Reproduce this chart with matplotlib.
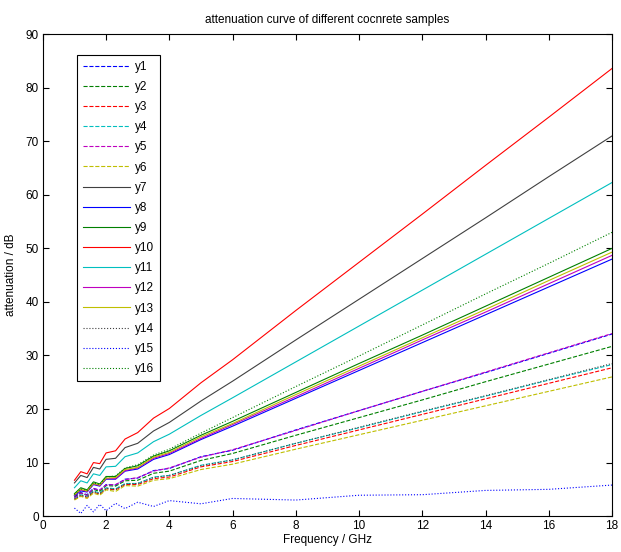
import matplotlib
matplotlib.use("Agg")
import matplotlib.pyplot as plt

plt.rcParams['font.family'] = ['Liberation Sans', 'DejaVu Sans']

freq = [1.0, 1.2, 1.4, 1.6, 1.8, 2.0, 2.3, 2.6, 3.0, 3.5, 4.0, 5.0, 6.0, 8.0, 10.0, 12.0, 14.0, 16.0, 18.0]

y1 = [3.6, 4.4, 4.0, 5.2, 4.8, 5.9, 5.8, 6.9, 7.1, 8.5, 8.9, 11.1, 12.3, 16.1, 19.7, 23.3, 26.8, 30.4, 34.0]
y2 = [3.5, 4.3, 3.9, 5.0, 4.6, 5.7, 5.6, 6.6, 6.7, 8.0, 8.4, 10.4, 11.7, 15.1, 18.4, 21.7, 25.1, 28.4, 31.7]
y3 = [3.1, 3.8, 3.5, 4.5, 4.1, 5.1, 4.9, 5.9, 5.9, 7.0, 7.3, 9.2, 10.2, 13.2, 16.1, 19.0, 21.9, 24.8, 27.7]
y4 = [3.3, 4.0, 3.7, 4.7, 4.3, 5.3, 5.1, 6.1, 6.1, 7.3, 7.6, 9.5, 10.5, 13.6, 16.5, 19.5, 22.4, 25.4, 28.3]
y5 = [3.4, 4.3, 3.9, 5.1, 4.9, 5.8, 5.9, 6.8, 7.2, 8.4, 9.0, 11.0, 12.4, 16.0, 19.7, 23.3, 26.9, 30.5, 34.1]
y6 = [3.0, 3.7, 3.3, 4.3, 3.9, 4.9, 4.6, 5.7, 5.6, 6.7, 7.0, 8.7, 9.7, 12.5, 15.2, 17.9, 20.6, 23.3, 26.0]
y7 = [6.2, 7.6, 7.2, 9.1, 8.8, 10.6, 10.8, 12.8, 13.6, 15.9, 17.5, 21.5, 25.2, 32.9, 40.5, 48.1, 55.7, 63.4, 71.0]
y8 = [3.8, 4.7, 4.5, 5.9, 5.6, 6.9, 6.9, 8.4, 8.8, 10.6, 11.5, 14.3, 16.8, 22.0, 27.2, 32.4, 37.6, 42.8, 48.0]
y9 = [4.2, 5.3, 4.9, 6.4, 6.0, 7.4, 7.4, 8.9, 9.4, 11.2, 12.2, 15.1, 17.7, 23.1, 28.5, 33.8, 39.2, 44.6, 50.0]
y10 = [6.7, 8.3, 7.9, 10.0, 9.8, 11.8, 12.2, 14.4, 15.6, 18.3, 20.1, 24.9, 29.2, 38.4, 47.4, 56.4, 65.5, 74.5, 83.6]
y11 = [5.3, 6.6, 6.2, 7.9, 7.6, 9.2, 9.3, 11.1, 11.8, 13.9, 15.3, 18.8, 22.1, 28.8, 35.5, 42.2, 48.9, 55.6, 62.3]
y12 = [3.9, 4.9, 4.6, 6.0, 5.7, 7.0, 7.0, 8.5, 9.0, 10.8, 11.7, 14.5, 17.1, 22.3, 27.6, 32.9, 38.1, 43.4, 48.7]
y13 = [4.0, 5.0, 4.7, 6.1, 5.8, 7.1, 7.2, 8.7, 9.1, 11.0, 11.9, 14.8, 17.3, 22.7, 28.0, 33.3, 38.6, 44.0, 49.3]
y14 = [3.2, 3.9, 3.6, 4.6, 4.2, 5.2, 5.0, 6.0, 6.1, 7.2, 7.6, 9.4, 10.5, 13.6, 16.6, 19.6, 22.5, 25.5, 28.5]
y15 = [1.5, 0.5, 2.0, 0.8, 2.2, 1.0, 2.4, 1.4, 2.6, 1.8, 2.9, 2.3, 3.3, 3.0, 3.9, 4.0, 4.8, 5.0, 5.8]
y16 = [4.0, 5.1, 4.8, 6.2, 5.9, 7.3, 7.5, 9.0, 9.6, 11.4, 12.5, 15.5, 18.4, 24.2, 29.9, 35.7, 41.5, 47.2, 53.0]

series = [y1, y2, y3, y4, y5, y6, y7, y8, y9, y10, y11, y12, y13, y14, y15, y16]
labels = ['y%d' % (i + 1) for i in range(16)]

# matlab-ish colour order
blue = (0, 0, 1)
green = (0, 0.5, 0)
red = (1, 0, 0)
cyan = (0, 0.75, 0.75)
magenta = (0.75, 0, 0.75)
olive = (0.75, 0.75, 0)
gray = (0.25, 0.25, 0.25)
colors = [blue, green, red, cyan, magenta, olive,
          gray, blue, green, red, cyan, magenta, olive,
          gray, blue, green]
styles = ['--'] * 6 + ['-'] * 7 + [':'] * 3

fig = plt.figure(figsize=(6.21, 5.52), dpi=100)
ax = fig.add_axes([0.069, 0.065, 0.9165, 0.873])

for ys, lab, c, ls in zip(series, labels, colors, styles):
    ax.plot(freq, ys, color=c, linestyle=ls, linewidth=0.8, label=lab)

ax.set_xlim(0, 18)
ax.set_ylim(0, 90)
ax.set_xticks(range(0, 19, 2))
ax.set_yticks(range(0, 91, 10))
ax.tick_params(direction='in', top=True, right=True, labelsize=8.5, length=4, pad=3)
for s in ax.spines.values():
    s.set_linewidth(0.8)

ax.set_xlabel('Frequency / GHz', fontsize=8.5, labelpad=1)
ax.set_ylabel('attenuation / dB', fontsize=8.5, labelpad=6)
ax.set_title('attenuation curve of different cocnrete samples', fontsize=8.5, pad=8)

leg = ax.legend(loc='upper left', bbox_to_anchor=(0.06, 0.957), borderaxespad=0,
                fontsize=8.5, handlelength=4, labelspacing=0.69, borderpad=0.5,
                handletextpad=0.4, fancybox=False, framealpha=1)
leg.get_frame().set_edgecolor('black')
leg.get_frame().set_linewidth(0.8)

fig.savefig('out.png', dpi=100)
